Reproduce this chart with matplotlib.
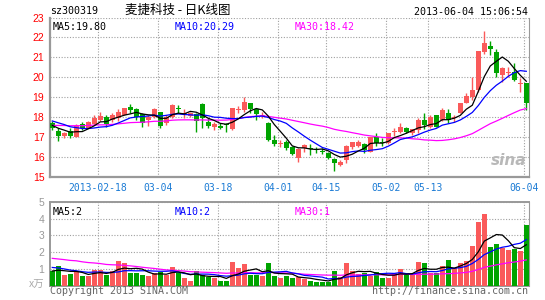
import numpy as np
import matplotlib.pyplot as plt

opens = [17.73, 17.32, 17.08, 17.32, 17.03, 17.68, 17.48, 17.65, 17.87, 18.03,
         17.88, 17.95, 18.12, 18.52, 18.40, 18.15, 17.87, 18.03, 18.28, 17.70,
         18.03, 18.47, 18.18, 18.05, 18.15, 18.67, 17.75, 17.53, 17.58, 17.65,
         17.42, 18.35, 18.37, 18.70, 18.40, 18.05, 17.70, 16.87, 16.68, 16.75,
         16.50, 15.95, 16.45, 16.47, 16.38, 16.31, 16.23, 15.92, 15.62, 15.87,
         16.53, 16.58, 16.67, 16.28, 17.00, 16.76, 16.70, 17.28, 17.28, 17.45,
         17.20, 17.37, 17.87, 17.50, 18.12, 17.87, 18.20, 17.96, 18.20, 18.73,
         19.03, 19.37, 21.28, 21.57, 21.28, 20.12, 20.23, 20.28, 19.68, 19.73]
closes = [17.45, 17.08, 17.22, 17.08, 17.58, 17.48, 17.78, 17.98, 18.05, 17.65,
          18.12, 18.25, 18.48, 18.37, 18.03, 17.73, 18.03, 18.40, 17.58, 18.03,
          18.62, 18.43, 18.22, 18.20, 17.82, 17.95, 17.58, 17.67, 17.48, 17.60,
          18.45, 18.42, 18.75, 18.42, 18.18, 18.10, 16.87, 16.65, 16.72, 16.45,
          16.17, 16.40, 16.62, 16.43, 16.35, 16.28, 15.95, 15.70, 15.78, 16.57,
          16.78, 16.75, 16.37, 17.00, 16.70, 16.72, 17.20, 17.32, 17.50, 17.28,
          17.40, 17.87, 17.62, 18.03, 17.53, 18.37, 17.87, 18.00, 18.73, 19.07,
          19.37, 21.33, 21.70, 21.40, 20.23, 20.45, 20.27, 19.87, 19.72, 18.73]
highs = [17.82, 17.48, 17.28, 17.48, 17.65, 17.75, 17.80, 18.12, 18.28, 18.12,
         18.20, 18.42, 18.48, 18.65, 18.48, 18.20, 18.12, 18.45, 18.28, 18.12,
         18.67, 18.62, 18.40, 18.28, 18.20, 18.70, 17.95, 17.78, 17.70, 17.72,
         18.48, 18.58, 19.03, 18.72, 18.42, 18.25, 17.75, 17.12, 16.87, 16.87,
         16.57, 16.45, 16.65, 16.67, 16.50, 16.45, 16.28, 15.95, 15.87, 16.60,
         16.78, 16.87, 16.70, 17.03, 17.23, 16.95, 17.22, 17.45, 17.70, 17.50,
         17.42, 17.95, 18.20, 18.12, 18.12, 18.45, 18.40, 18.12, 18.73, 19.20,
         20.03, 21.33, 22.33, 21.83, 21.40, 20.53, 20.50, 20.70, 19.95, 19.73]
lows = [17.37, 16.83, 16.98, 16.95, 17.02, 17.37, 17.45, 17.62, 17.82, 17.53,
        17.78, 17.83, 18.10, 18.20, 17.87, 17.53, 17.58, 17.95, 17.45, 17.62,
        17.95, 18.20, 17.98, 18.00, 17.28, 17.48, 17.48, 17.35, 17.42, 17.28,
        17.38, 18.20, 18.28, 18.20, 17.87, 17.95, 16.82, 16.57, 16.53, 16.37,
        16.12, 15.78, 16.28, 16.12, 16.20, 16.17, 15.90, 15.33, 15.57, 15.70,
        16.40, 16.53, 16.23, 16.28, 16.58, 16.55, 16.68, 17.05, 17.20, 17.22,
        17.10, 17.20, 17.42, 17.45, 17.53, 17.80, 17.70, 17.78, 18.20, 18.70,
        18.87, 19.28, 21.15, 21.13, 20.03, 19.78, 20.03, 19.83, 19.28, 18.37]
vols = [0.89, 1.18, 0.65, 0.71, 0.89, 0.59, 0.59, 0.95, 0.95, 0.65,
        0.89, 1.48, 1.34, 0.77, 0.77, 0.65, 0.59, 0.75, 0.85, 0.65,
        1.15, 0.75, 0.50, 0.30, 0.88, 0.65, 0.55, 0.45, 0.30, 0.30,
        1.45, 1.05, 1.28, 0.65, 0.65, 0.60, 1.35, 0.59, 0.49, 0.59,
        0.49, 0.51, 0.39, 0.32, 0.26, 0.26, 0.26, 0.89, 0.51, 1.38,
        0.89, 0.69, 0.79, 0.59, 0.85, 0.49, 0.49, 0.79, 0.99, 0.75,
        0.65, 1.44, 1.38, 0.75, 0.75, 1.18, 1.54, 1.08, 1.38, 1.50,
        2.37, 3.81, 4.26, 2.33, 2.49, 2.23, 2.13, 2.19, 2.07, 3.61]

# history before the visible window, only used to start the moving averages
prior_closes = [17.2, 17.3, 17.5, 17.4, 17.6, 17.3, 17.5, 17.7, 17.6, 17.4,
                17.5, 17.6, 17.4, 17.7, 17.5, 17.4, 17.6, 17.5, 17.5, 17.6,
                18.0, 18.1, 18.2, 18.0, 17.9, 17.8, 17.7, 17.6, 17.45]
prior_vols = [2.3, 1.8, 2.1, 1.6, 2.4, 1.9, 1.7, 2.0, 2.2, 1.5,
              1.8, 2.1, 1.6, 1.9, 2.0, 1.7, 1.8, 2.2, 1.9, 1.7,
              1.5, 1.2, 1.4, 1.3, 1.15, 0.95, 0.8, 0.9, 0.91]

date_idx = [8, 18, 28, 38, 46, 56, 63, 79]
date_lbl = ['2013-02-18', '03-04', '03-18', '04-01', '04-15', '05-02', '05-13', '06-04']

RED = '#fa5a5a'
GREEN = '#00a400'
GRID = '#a0a0a0'
BORDER = '#999999'
MONO = 'DejaVu Sans Mono'


def ma(values, prior, n):
    allv = np.array(prior + values, float)
    out = np.convolve(allv, np.ones(n) / n, mode='valid')
    return out[-len(values):]


x = np.arange(len(closes))
o = np.array(opens)
c = np.array(closes)
up = c >= o
cols = [RED if u else GREEN for u in up]

fig = plt.figure(figsize=(5.45, 3.0), dpi=100)
W, H = 545.0, 300.0

ax = fig.add_axes([50 / W, 1 - 177.3 / H, 479 / W, (177.3 - 17.5) / H])
axv = fig.add_axes([50 / W, 1 - 286 / H, 479 / W, 84.3 / H])

ticks_x = [i - 0.4 for i in date_idx]
xlim = (-0.38, 79.45)

# price panel
ax.vlines(x, lows, highs, colors=cols, linewidth=1.0, zorder=3)
body = np.maximum(np.abs(c - o), 0.045)
ax.bar(x, body, bottom=np.minimum(o, c), width=0.78, color=cols, linewidth=0, zorder=4)
ax.plot(x, ma(closes, prior_closes, 30), color='#ff00ff', linewidth=0.9, zorder=5)
ax.plot(x, ma(closes, prior_closes, 10), color='#0000ff', linewidth=0.9, zorder=5)
ax.plot(x, ma(closes, prior_closes, 5), color='black', linewidth=0.9, zorder=5)

ax.set_xlim(*xlim)
ax.set_ylim(15, 23)
ax.set_yticks(range(15, 24))
ax.set_yticklabels([str(v) for v in range(15, 24)], color='red',
                   fontsize=7.5, family='Liberation Sans')
ax.set_xticks(ticks_x)
ax.set_xticklabels(date_lbl, color='#1a7ad4', fontsize=7, family=MONO)
ax.tick_params(length=0, pad=4)
ax.tick_params(axis='x', pad=4)
ax.grid(True, color=GRID, linestyle=(0, (1, 1.5)), linewidth=0.8)
ax.set_axisbelow(True)
for s in ['left', 'bottom']:
    ax.spines[s].set_color(BORDER)
    ax.spines[s].set_linewidth(1.6)
ax.spines['right'].set_color(BORDER)
ax.spines['right'].set_linewidth(0.8)
ax.spines['top'].set_visible(False)

ax.text(0.006, 0.97, 'MA5:19.80', transform=ax.transAxes, color='black',
        fontsize=7.2, family=MONO, va='top', ha='left')
ax.text(125 / 479, 0.97, 'MA10:20.29', transform=ax.transAxes, color='#0000ff',
        fontsize=7.2, family=MONO, va='top', ha='left')
ax.text(245 / 479, 0.97, 'MA30:18.42', transform=ax.transAxes, color='#ff00ff',
        fontsize=7.2, family=MONO, va='top', ha='left')
ax.text(0.995, 0.06, 'sina', transform=ax.transAxes, color='#b8b8b8',
        fontsize=11, fontweight='bold', style='italic', ha='right', va='bottom')

# volume panel
axv.bar(x, vols, width=0.78, color=cols, linewidth=0, zorder=3)
axv.plot(x, ma(vols, prior_vols, 30), color='#ff00ff', linewidth=0.9, zorder=5)
axv.plot(x, ma(vols, prior_vols, 10), color='#0000ff', linewidth=0.9, zorder=5)
axv.plot(x, ma(vols, prior_vols, 5), color='black', linewidth=0.9, zorder=5)
axv.set_xlim(*xlim)
axv.set_ylim(0, 5)
axv.set_yticks([1, 2, 3, 4, 5])
axv.set_yticklabels(['1', '2', '3', '4', '5'], color='#999999',
                    fontsize=7.5, family='Liberation Sans')
axv.set_xticks(ticks_x)
axv.set_xticklabels([])
axv.tick_params(length=0, pad=4)
axv.grid(True, color=GRID, linestyle=(0, (1, 1.5)), linewidth=0.8)
axv.set_axisbelow(True)
for s in ['left', 'bottom', 'top']:
    axv.spines[s].set_color(BORDER)
    axv.spines[s].set_linewidth(1.4)
axv.spines['right'].set_color(BORDER)
axv.spines['right'].set_linewidth(0.8)

axv.text(0.006, 0.94, 'MA5:2', transform=axv.transAxes, color='black',
         fontsize=7.2, family=MONO, va='top', ha='left')
axv.text(125 / 479, 0.94, 'MA10:2', transform=axv.transAxes, color='#0000ff',
         fontsize=7.2, family=MONO, va='top', ha='left')
axv.text(245 / 479, 0.94, 'MA30:1', transform=axv.transAxes, color='#ff00ff',
         fontsize=7.2, family=MONO, va='top', ha='left')

# header and footer
fig.text(50 / W, 1 - 11 / H, 'sz300319', fontsize=7.2, family=MONO, va='center', ha='left')
fig.text(178 / W, 1 - 10.5 / H, '麦捷科技 - 日K线图', fontsize=9,
         family=['Noto Sans CJK SC', 'DejaVu Sans'], va='center', ha='center')
fig.text(528 / W, 1 - 12 / H, '2013-06-04 15:06:54', fontsize=7.2, family=MONO,
         va='center', ha='right')
fig.text(44 / W, 1 - 285 / H, 'x万', fontsize=7.5, color='#aaaaaa',
         family=['Noto Sans CJK SC', 'DejaVu Sans'], va='center', ha='right')
fig.text(50 / W, 1 - 291.5 / H, 'Copyright 2013 SINA.COM', fontsize=7.2, family=MONO,
         color='#666666', va='center', ha='left')
fig.text(528 / W, 1 - 291.5 / H, 'http://finance.sina.com.cn', fontsize=7.2, family=MONO,
         color='#666666', va='center', ha='right')

fig.savefig('out.png', dpi=100)
